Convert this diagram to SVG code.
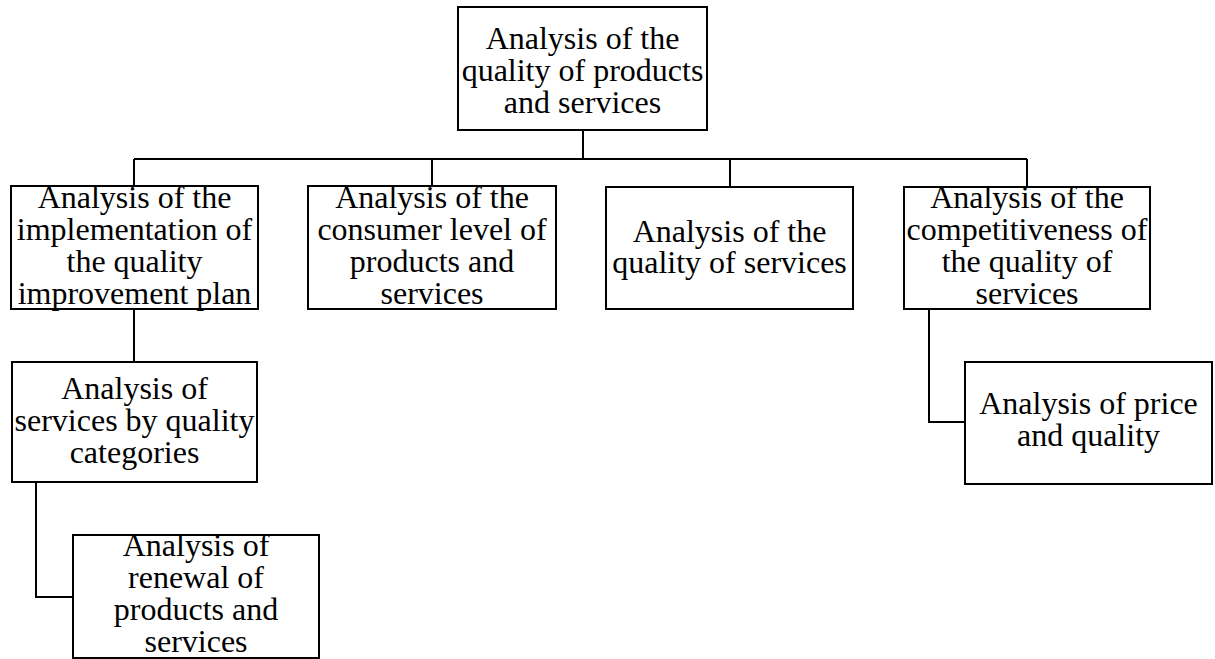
<svg xmlns="http://www.w3.org/2000/svg" width="1215" height="659" viewBox="0 0 1215 659">
<style>
.box{fill:none;stroke:#000;stroke-width:2}
.t{font-family:"Liberation Serif","Times New Roman",serif;font-size:32px;fill:#000;text-anchor:middle}
.c{fill:none;stroke:#000;stroke-width:2}
</style>
<rect width="1215" height="659" fill="#fff"/>
<g id="connectors">
<path class="c" d="M583 130V159M134 159H1027M134 159V186M432 159V186M730 159V187M1027 159V187"/>
<path class="c" d="M134 309V362"/>
<path class="c" d="M36 482V597H73"/>
<path class="c" d="M929 309V422H965"/>
</g>
<g id="n-root">
<text class="t" x="582.5" y="49">Analysis of the</text>
<text class="t" x="582.5" y="81">quality of products</text>
<text class="t" x="582.5" y="113">and services</text>
<rect class="box" x="458" y="7" width="249" height="123"/>
</g>
<g id="n-impl">
<text class="t" x="134.5" y="208">Analysis of the</text>
<text class="t" x="134.5" y="240">implementation of</text>
<text class="t" x="134.5" y="272">the quality</text>
<text class="t" x="134.5" y="304">improvement plan</text>
<rect class="box" x="11" y="186" width="247" height="123"/>
</g>
<g id="n-consumer">
<text class="t" x="432" y="208">Analysis of the</text>
<text class="t" x="432" y="240">consumer level of</text>
<text class="t" x="432" y="272">products and</text>
<text class="t" x="432" y="304">services</text>
<rect class="box" x="308" y="186" width="248" height="123"/>
</g>
<g id="n-services">
<text class="t" x="729.5" y="242">Analysis of the</text>
<text class="t" x="729.5" y="273">quality of services</text>
<rect class="box" x="606" y="187" width="247" height="122"/>
</g>
<g id="n-compet">
<text class="t" x="1027" y="208">Analysis of the</text>
<text class="t" x="1027" y="240">competitiveness of</text>
<text class="t" x="1027" y="272">the quality of</text>
<text class="t" x="1027" y="304">services</text>
<rect class="box" x="904" y="187" width="246" height="122"/>
</g>
<g id="n-categories">
<text class="t" x="134.5" y="399">Analysis of</text>
<text class="t" x="134.5" y="431">services by quality</text>
<text class="t" x="134.5" y="463">categories</text>
<rect class="box" x="12" y="362" width="245" height="120"/>
</g>
<g id="n-renewal">
<text class="t" x="196" y="556">Analysis of</text>
<text class="t" x="196" y="588">renewal of</text>
<text class="t" x="196" y="620">products and</text>
<text class="t" x="196" y="652">services</text>
<rect class="box" x="73" y="535" width="246" height="123"/>
</g>
<g id="n-price">
<text class="t" x="1088.5" y="414">Analysis of price</text>
<text class="t" x="1088.5" y="446">and quality</text>
<rect class="box" x="965" y="362" width="247" height="122"/>
</g>
</svg>
